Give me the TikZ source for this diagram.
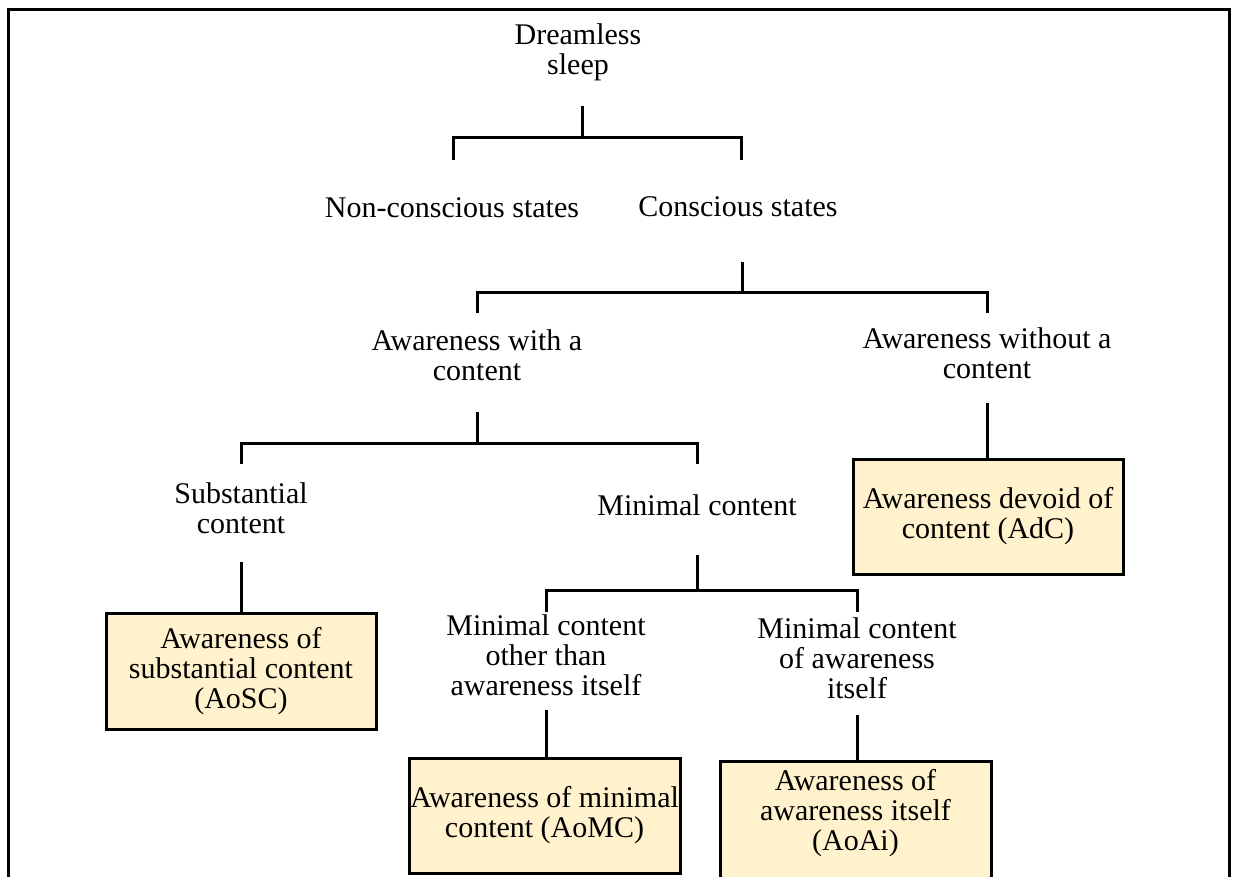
\documentclass[tikz,border=0pt]{standalone}
\usepackage{fontspec}
\setmainfont{Liberation Serif}
\definecolor{boxfill}{HTML}{FFF2CC}
\begin{document}
\begin{tikzpicture}[x=1pt,y=-1pt,
  lbl/.style={align=center, inner sep=0pt, font=\fontsize{30}{30}\selectfont},
  leaf/.style={draw=black, line width=3pt, fill=boxfill, inner sep=0pt,
    align=center, font=\fontsize{30}{30}\selectfont},
  link/.style={line width=3pt, line join=miter}]
\useasboundingbox (0,0) rectangle (1234,876);
% frame
\draw[line width=3pt] (8,9) rectangle (1229,900);

% labels
\node[lbl] (root) at (578,52) {Dreamless\\sleep};
\node[lbl] (nc) at (452,208) {Non-conscious states};
\node[lbl] (cs) at (738,207) {Conscious states};
\node[lbl] (awc) at (477,355) {Awareness with a\\content};
\node[lbl] (awoc) at (987,353) {Awareness without a\\content};
\node[lbl] (sub) at (241,508) {Substantial\\content};
\node[lbl] (min) at (697,505) {Minimal content};
\node[lbl] (mo) at (546,655) {Minimal content\\other than\\awareness itself};
\node[lbl] (ma) at (857,658) {Minimal content\\of awareness\\itself};

% boxes
\node[leaf, minimum width=270pt, minimum height=116pt] (aosc) at (241,671)
  {Awareness of\\substantial content\\(AoSC)};
\node[leaf, minimum width=270pt, minimum height=115pt] (adc) at (988,516.5)
  {Awareness devoid of\\content (AdC)};
\node[leaf, minimum width=271pt, minimum height=115pt] (aomc) at (544.5,815.5)
  {Awareness of minimal\\content (AoMC)};
\node[leaf, minimum width=271pt, minimum height=122pt,
  label={[lbl, yshift=9pt]center:{Awareness of\\awareness itself\\(AoAi)}}] (aoai) at (855.5,822) {};

% connector end points
\coordinate (rootS) at (582,106);
\coordinate (rootJ) at (582,137);
\coordinate (ncT) at (453,160);
\coordinate (csT) at (741,160);
\coordinate (csS) at (742,262);
\coordinate (csJ) at (742,292);
\coordinate (awcT) at (477,313);
\coordinate (awocT) at (987,313);
\coordinate (awcS) at (477,412);
\coordinate (awcJ) at (477,443);
\coordinate (subT) at (241,464);
\coordinate (minT) at (697,464);
\coordinate (awocS) at (987,403);
\coordinate (subS) at (241,562);
\coordinate (minS) at (697,555);
\coordinate (minJ) at (697,590);
\coordinate (moT) at (546,612);
\coordinate (maT) at (857,612);
\coordinate (moS) at (546,710);
\coordinate (maS) at (857,715);

% tree connectors
\draw[link] (rootS) -- (rootJ);
\draw[link] (ncT) -- (ncT |- rootJ) -- (csT |- rootJ) -- (csT);
\draw[link] (csS) -- (csJ);
\draw[link] (awcT) -- (awcT |- csJ) -- (awocT |- csJ) -- (awocT);
\draw[link] (awcS) -- (awcJ);
\draw[link] (subT) -- (subT |- awcJ) -- (minT |- awcJ) -- (minT);
\draw[link] (awocS) -- (adc.north -| awocS);
\draw[link] (subS) -- (aosc.north -| subS);
\draw[link] (minS) -- (minJ);
\draw[link] (moT) -- (moT |- minJ) -- (maT |- minJ) -- (maT);
\draw[link] (moS) -- (aomc.north -| moS);
\draw[link] (maS) -- (aoai.north -| maS);
\end{tikzpicture}
\end{document}
